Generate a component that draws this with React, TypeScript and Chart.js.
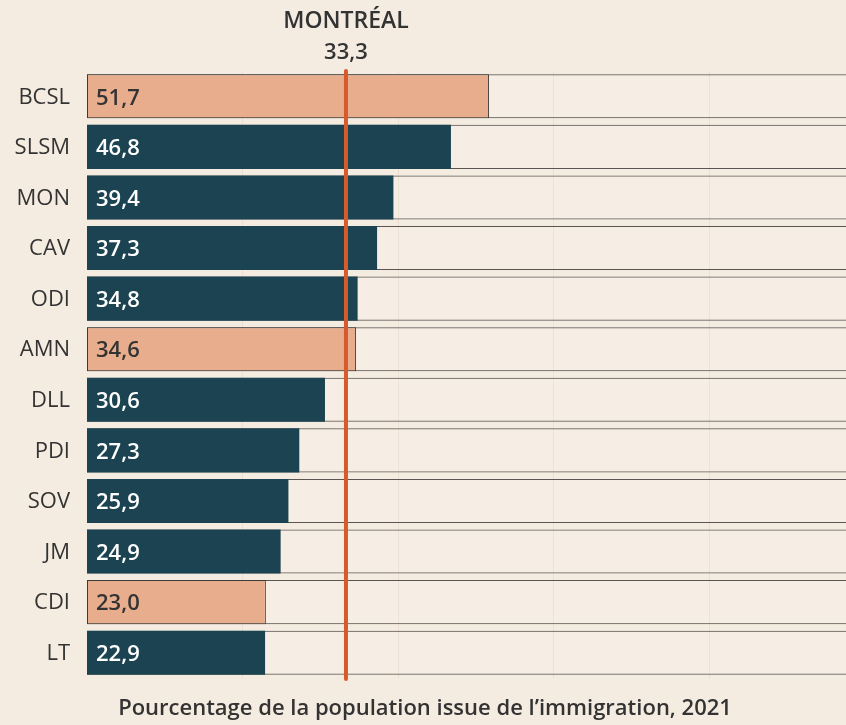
import React, { useEffect, useRef } from "react";
import { Chart, registerables } from "chart.js";

Chart.register(...registerables);

const categories = ["BCSL", "SLSM", "MON", "CAV", "ODI", "AMN", "DLL", "PDI", "SOV", "JM", "CDI", "LT"];
const values = [51.7, 46.8, 39.4, 37.3, 34.8, 34.6, 30.6, 27.3, 25.9, 24.9, 23.0, 22.9];
const highlighted = [true, false, false, false, false, true, false, false, false, false, true, false];
const trackValues = [100, 100, 100, 100, 100, 100, 100, 100, 100, 100, 100, 100];
const referenceValue = 33.3;
const referenceName = "MONTRÉAL";
const axisTitle = "Pourcentage de la population issue de l’immigration, 2021";
const gridTicks = [20, 40, 60, 80];

const BG = "#f5ece1";
const DARK = "#1b4351";
const ORANGE_BAR = "#e8ad8c";
const LINE = "#d55b2c";
const TEXT = "#333333";
const FONT = "'Open Sans', sans-serif";

const fmt = (v: number) => v.toFixed(1).replace(".", ",");

export default function App() {
  const ref = useRef<HTMLCanvasElement | null>(null);

  useEffect(() => {
    document.body.style.margin = "0";
    document.body.style.background = BG;
    const canvas = ref.current!;
    const overlay = {
      id: "overlay",
      afterDatasetsDraw(chart: any) {
        const ctx = chart.ctx;
        const x = chart.scales.x;
        const y = chart.scales.y;
        const area = chart.chartArea;
        ctx.save();
        // category labels
        ctx.font = `22px ${FONT}`;
        ctx.fillStyle = TEXT;
        ctx.textAlign = "right";
        ctx.textBaseline = "middle";
        categories.forEach((c, i) => {
          ctx.fillText(c, 70, y.getPixelForValue(i) + 1);
        });
        // value labels
        ctx.font = `600 22px ${FONT}`;
        ctx.textAlign = "left";
        values.forEach((v, i) => {
          ctx.fillStyle = highlighted[i] ? TEXT : "#ffffff";
          ctx.fillText(fmt(v), area.left + 9, y.getPixelForValue(i) + 2);
        });
        // reference line
        const rx = x.getPixelForValue(referenceValue);
        ctx.strokeStyle = LINE;
        ctx.lineWidth = 4;
        ctx.lineCap = "round";
        ctx.beginPath();
        ctx.moveTo(rx, area.top);
        ctx.lineTo(rx, area.bottom + 1);
        ctx.stroke();
        ctx.fillStyle = TEXT;
        ctx.textAlign = "center";
        ctx.font = `600 23px ${FONT}`;
        ctx.fillText(referenceName, rx, 21);
        ctx.font = `600 22px ${FONT}`;
        ctx.fillText(fmt(referenceValue), rx, 53);
        // axis title
        ctx.fillText(axisTitle, 425, 709);
        ctx.restore();
      },
    };

    const chart = new Chart(canvas, {
      type: "bar",
      data: {
        labels: categories,
        datasets: [
          {
            data: values,
            backgroundColor: highlighted.map((h) => (h ? ORANGE_BAR : DARK)),
            borderColor: highlighted.map((h) => (h ? "#3a3a3a" : DARK)),
            borderWidth: highlighted.map((h) => (h ? 1 : 0)) as any,
            borderSkipped: false,
            grouped: false,
            categoryPercentage: 1,
            barPercentage: 0.87,
          },
          {
            data: trackValues,
            backgroundColor: "rgba(255,255,255,0.12)",
            borderColor: "#5a5550",
            borderWidth: { top: 1, bottom: 1, left: 1, right: 0 },
            borderSkipped: false,
            grouped: false,
            categoryPercentage: 1,
            barPercentage: 0.87,
          },
        ],
      },
      options: {
        indexAxis: "y",
        animation: false,
        responsive: false,
        maintainAspectRatio: false,
        layout: { padding: { left: 87, top: 71, bottom: 47, right: 0 } },
        plugins: { legend: { display: false }, tooltip: { enabled: false } },
        scales: {
          x: {
            min: 0,
            max: 97.6,
            afterBuildTicks: (axis: any) => {
              axis.ticks = gridTicks.map((v) => ({ value: v }));
            },
            ticks: { display: false },
            grid: { color: "#ecdfd1", lineWidth: 1, drawTicks: false },
            border: { display: false },
          },
          y: { display: false },
        },
      },
      plugins: [overlay],
    });
    return () => chart.destroy();
  }, []);

  return (
    <div style={{ width: 846, height: 725, background: BG, overflow: "hidden" }}>
      <canvas ref={ref} width={846} height={725} style={{ display: "block" }} />
    </div>
  );
}
